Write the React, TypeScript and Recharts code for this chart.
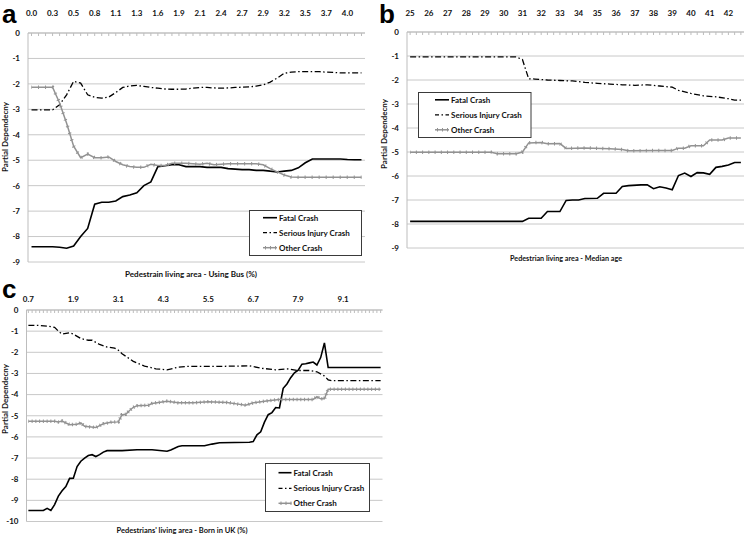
import React from 'react';
import { LineChart, Line, XAxis, YAxis, CartesianGrid } from 'recharts';

type Pt = [number, number];

const FONT = "Lato, 'Open Sans', 'Liberation Sans', sans-serif";
const GRID = '#c8c8c8';
const AXIS = '#bdbdbd';
const GRAY = '#929292';
const INK = '#111111';

const seriesNames = ['Fatal Crash', 'Serious Injury Crash', 'Other Crash'];
const yAxisTitle = 'Partial Dependecny';
const panelLetters = ['a', 'b', 'c'];
const xAxisTitles = [
  'Pedestrain living area - Using Bus (%)',
  'Pedestrian living area - Median age',
  "Pedestrians' living area - Born in UK (%)",
];

// ---------- Panel a : Using Bus (%) ----------
const aTickLabels = ['0.0', '0.3', '0.5', '0.8', '1.1', '1.3', '1.6', '1.9', '2.1', '2.4', '2.7', '2.9', '3.2', '3.5', '3.7', '4.0'];
const aCategoryCount = 48;
const aFatal = [
  -8.4, -8.4, -8.4, -8.4, -8.42, -8.46, -8.37, -8.0, -7.68, -6.73, -6.65, -6.65, -6.6, -6.43, -6.37, -6.28,
  -6.0, -5.85, -5.25, -5.22, -5.18, -5.18, -5.25, -5.25, -5.25, -5.28, -5.28, -5.28, -5.33, -5.35, -5.37, -5.37,
  -5.4, -5.4, -5.43, -5.46, -5.43, -5.4, -5.3, -5.1, -4.95, -4.95, -4.95, -4.95, -4.95, -4.97, -4.98, -4.98,
];
const aSerious = [
  -3.02, -3.02, -3.02, -3.02, -2.82, -2.43, -1.9, -1.97, -2.43, -2.53, -2.56, -2.52, -2.34, -2.14, -2.08, -2.06,
  -2.1, -2.14, -2.17, -2.2, -2.21, -2.21, -2.2, -2.17, -2.14, -2.14, -2.16, -2.17, -2.16, -2.14, -2.13, -2.12,
  -2.09, -2.04, -1.93, -1.77, -1.58, -1.54, -1.52, -1.52, -1.52, -1.52, -1.54, -1.55, -1.57, -1.57, -1.57, -1.57,
];
const aOther = [
  -2.13, -2.13, -2.13, -2.13, -2.75, -3.55, -4.45, -4.9, -4.76, -4.9, -4.9, -4.87, -5.05, -5.18, -5.25, -5.28,
  -5.28, -5.16, -5.21, -5.21, -5.12, -5.12, -5.12, -5.14, -5.16, -5.12, -5.18, -5.16, -5.14, -5.14, -5.14, -5.14,
  -5.14, -5.18, -5.33, -5.46, -5.58, -5.66, -5.67, -5.67, -5.67, -5.67, -5.67, -5.67, -5.67, -5.67, -5.67, -5.67,
];

// ---------- Panel b : Median age ----------
const bTickLabels = ['25', '26', '27', '28', '29', '30', '31', '32', '33', '34', '35', '36', '37', '38', '39', '40', '41', '42'];
const bCategoryCount = 54;
const bFatal: Pt[] = [
  [0, -7.89], [18, -7.89], [19, -7.76], [21, -7.76], [22, -7.48], [24, -7.48], [25, -7.02], [26, -7.0], [27, -7.0],
  [28, -6.94], [30, -6.93], [31, -6.72], [33, -6.72], [34, -6.44], [35, -6.4], [37, -6.37], [38, -6.37], [39, -6.53],
  [40, -6.45], [41, -6.5], [42, -6.57], [43, -5.98], [44, -5.88], [45, -6.02], [46, -5.86], [47, -5.87], [48, -5.93],
  [49, -5.64], [50, -5.6], [51, -5.54], [52, -5.44], [53, -5.44],
];
const bSerious: Pt[] = [
  [0, -1.04], [17, -1.04], [18, -1.15], [19, -1.95], [20, -1.96], [22, -2.0], [24, -2.02], [26, -2.04], [28, -2.1],
  [30, -2.14], [32, -2.17], [34, -2.2], [36, -2.22], [38, -2.2], [40, -2.25], [42, -2.3], [43, -2.43], [45, -2.56],
  [47, -2.66], [49, -2.7], [51, -2.78], [52, -2.84], [53, -2.84],
];
const bOther: Pt[] = [
  [0, -5.01], [13, -5.01], [14, -5.07], [17, -5.07], [18, -5.0], [19, -4.62], [21, -4.6], [22, -4.66], [24, -4.65],
  [25, -4.85], [28, -4.83], [32, -4.86], [34, -4.9], [35, -4.95], [39, -4.94], [42, -4.94], [43, -4.84], [44, -4.84],
  [45, -4.74], [47, -4.74], [48, -4.5], [50, -4.5], [51, -4.42], [53, -4.42],
];

// ---------- Panel c : Born in UK (%) ----------
const cTickLabels = ['0.7', '1.9', '3.1', '4.3', '5.5', '6.7', '7.9', '9.1'];
const cCategoryCount = 95;
const cFatal: Pt[] = [
  [0, -9.48], [4, -9.48], [5, -9.38], [6, -9.48], [7, -9.2], [8, -8.8], [9, -8.55], [10, -8.35], [11, -7.96],
  [12, -7.95], [13, -7.4], [14, -7.15], [15, -7.0], [16, -6.88], [17, -6.84], [18, -6.93], [19, -6.84], [20, -6.72],
  [21, -6.65], [25, -6.65], [29, -6.61], [33, -6.61], [37, -6.68], [38, -6.62], [40, -6.45], [41, -6.42], [47, -6.42],
  [49, -6.34], [51, -6.28], [59, -6.25], [60, -6.22], [61, -5.9], [62, -5.76], [63, -5.3], [64, -4.95], [65, -4.85],
  [66, -4.61], [67, -4.63], [68, -3.7], [69, -3.5], [70, -3.2], [71, -2.97], [72, -2.85], [73, -2.56], [74, -2.54],
  [75, -2.5], [76, -2.46], [77, -2.6], [78, -2.25], [79, -1.56], [80, -2.72], [94, -2.72],
];
const cSerious: Pt[] = [
  [0, -0.73], [3, -0.73], [5, -0.76], [7, -0.82], [8, -1.0], [9, -1.14], [11, -1.08], [12, -1.14], [14, -1.35],
  [16, -1.43], [17, -1.43], [19, -1.63], [21, -1.75], [23, -1.8], [24, -1.9], [25, -2.07], [28, -2.43], [31, -2.65],
  [34, -2.78], [37, -2.83], [40, -2.7], [42, -2.67], [48, -2.67], [53, -2.66], [59, -2.64], [62, -2.75], [66, -2.83],
  [69, -2.78], [72, -2.86], [75, -2.86], [77, -2.92], [79, -3.12], [80, -3.3], [81, -3.34], [94, -3.34],
];
const cOther: Pt[] = [
  [0, -5.26], [7, -5.26], [8, -5.29], [9, -5.25], [11, -5.42], [13, -5.4], [14, -5.34], [15, -5.5], [18, -5.56],
  [20, -5.38], [22, -5.31], [24, -5.29], [25, -4.95], [26, -4.93], [27, -4.75], [28, -4.6], [29, -4.53], [32, -4.5],
  [33, -4.42], [37, -4.31], [40, -4.39], [44, -4.39], [48, -4.34], [53, -4.37], [56, -4.45], [58, -4.5], [60, -4.39],
  [64, -4.29], [67, -4.23], [76, -4.23], [77, -4.1], [78, -4.2], [79, -4.2], [80, -3.75], [94, -3.75],
];

function toPairs(values: number[]): Pt[] {
  return values.map((v, i) => [i, v] as Pt);
}

function buildRows(fatal: Pt[], serious: Pt[], other: Pt[]) {
  const rows = new Map<number, Record<string, number>>();
  const put = (key: string, pts: Pt[]) =>
    pts.forEach(([x, y]) => {
      const r = rows.get(x) ?? { x };
      r[key] = y;
      rows.set(x, r);
    });
  put('fatal', fatal);
  put('serious', serious);
  put('other', other);
  return Array.from(rows.values()).sort((p, q) => p.x - q.x);
}

function TopTick(props: any) {
  const { x, y, payload, labels, every, gap } = props;
  const i = Math.round(payload.value);
  const lbl = i % every === 0 ? labels[i / every] : undefined;
  return (
    <g>
      <line x1={x} x2={x} y1={y} y2={y + 3} stroke={AXIS} strokeWidth={1} />
      {lbl !== undefined && (
        <text x={x} y={y - gap} textAnchor="middle" dominantBaseline="central" fontSize={8} fontWeight={700} fill={INK} fontFamily={FONT}>
          {lbl}
        </text>
      )}
    </g>
  );
}

interface PanelProps {
  left: number; top: number; width: number; height: number;
  plotLeft: number; plotTop: number; plotRight: number; plotBottom: number;
  count: number; every: number; labels: string[]; gap: number; yMin: number;
  fatal: Pt[]; serious: Pt[]; other: Pt[];
}

function Panel(p: PanelProps) {
  const data = buildRows(p.fatal, p.serious, p.other);
  const step = (p.plotRight - p.plotLeft) / p.count;
  const ticks = Array.from({ length: p.count }, (_, i) => i);
  const yTicks = Array.from({ length: -p.yMin + 1 }, (_, k) => -k);
  return (
    <div style={{ position: 'absolute', left: p.left, top: p.top }}>
      <LineChart
        width={p.width}
        height={p.height}
        data={data}
        margin={{ top: 0, left: 0, right: p.width - (p.plotRight - p.left), bottom: p.height - (p.plotBottom - p.top) }}
      >
        <CartesianGrid vertical={false} stroke={GRID} />
        <XAxis
          type="number"
          dataKey="x"
          orientation="top"
          domain={[-0.5, p.count - 0.5]}
          allowDataOverflow
          ticks={ticks}
          interval={0}
          height={p.plotTop - p.top}
          tickSize={0}
          tickMargin={0}
          tickLine={false}
          axisLine={{ stroke: AXIS }}
          tick={(tp: any) => <TopTick {...tp} labels={p.labels} every={p.every} gap={p.gap} />}
        />
        <YAxis
          type="number"
          domain={[p.yMin, 0]}
          allowDataOverflow
          ticks={yTicks}
          interval={0}
          width={p.plotLeft - p.left}
          tickSize={0}
          tickMargin={8}
          tickLine={false}
          axisLine={{ stroke: AXIS }}
          tick={{ fontSize: 8, fontWeight: 700, fill: INK, fontFamily: FONT }}
        />
        <Line type="linear" dataKey="fatal" name={seriesNames[0]} stroke="#000" strokeWidth={1.6} dot={false} activeDot={false} connectNulls isAnimationActive={false} />
        <Line type="linear" dataKey="serious" name={seriesNames[1]} stroke="#000" strokeWidth={1.3} strokeDasharray="6 2.5 1.5 2.5" dot={false} activeDot={false} connectNulls isAnimationActive={false} />
        <Line type="linear" dataKey="other" name={seriesNames[2]} stroke={GRAY} strokeWidth={1.5} dot={false} activeDot={false} connectNulls isAnimationActive={false} />
        <Line type="linear" dataKey="other" name="other-markers" legendType="none" stroke={GRAY} strokeWidth={3.5} strokeDasharray={`1 ${(step - 1).toFixed(2)}`} strokeDashoffset={0.5} dot={false} activeDot={false} connectNulls isAnimationActive={false} />
      </LineChart>
    </div>
  );
}

function LegendBox(props: { x: number; y: number; w: number; h: number; rows: number[]; sx: number; sw: number }) {
  const { x, y, w, h, rows, sx, sw } = props;
  const tx = sx + sw + 2;
  return (
    <g>
      <rect x={x} y={y} width={w} height={h} fill="#fff" stroke="#3a3a3a" strokeWidth={1} />
      <line x1={sx} x2={sx + sw} y1={rows[0]} y2={rows[0]} stroke="#000" strokeWidth={1.6} />
      <line x1={sx} x2={sx + sw} y1={rows[1]} y2={rows[1]} stroke="#000" strokeWidth={1.3} strokeDasharray="4 2.5 1.5 2.5" />
      <line x1={sx} x2={sx + sw} y1={rows[2]} y2={rows[2]} stroke={GRAY} strokeWidth={1.5} />
      <line x1={sx} x2={sx + sw} y1={rows[2]} y2={rows[2]} stroke={GRAY} strokeWidth={3.5} strokeDasharray="1 4" strokeDashoffset={-2} />
      {seriesNames.map((n, k) => (
        <text key={n} x={tx} y={rows[k]} dominantBaseline="central" fontSize={8} fontWeight={700} fill={INK} fontFamily={FONT}>
          {n}
        </text>
      ))}
    </g>
  );
}

export default function App() {
  const titleStyle = { fontSize: 8, fontWeight: 700, fill: INK, fontFamily: FONT } as const;
  const letterStyle = { fontSize: 26, fontWeight: 700, fill: '#000', fontFamily: "'Liberation Sans', Arial, sans-serif" } as const;
  return (
    <div style={{ position: 'absolute', left: 0, top: 0, width: 747, height: 536, background: '#fff', overflow: 'hidden' }}>
      <Panel
        left={0} top={0} width={375} height={270}
        plotLeft={28} plotTop={33} plotRight={365} plotBottom={262}
        count={aCategoryCount} every={3} labels={aTickLabels} gap={20} yMin={-9}
        fatal={toPairs(aFatal)} serious={toPairs(aSerious)} other={toPairs(aOther)}
      />
      <Panel
        left={380} top={0} width={367} height={255}
        plotLeft={407} plotTop={32} plotRight={744} plotBottom={248}
        count={bCategoryCount} every={3} labels={bTickLabels} gap={19} yMin={-9}
        fatal={bFatal} serious={bSerious} other={bOther}
      />
      <Panel
        left={0} top={283} width={390} height={253}
        plotLeft={26.5} plotTop={310} plotRight={382.5} plotBottom={521.5}
        count={cCategoryCount} every={12} labels={cTickLabels} gap={11} yMin={-10}
        fatal={cFatal} serious={cSerious} other={cOther}
      />
      <svg width={747} height={536} style={{ position: 'absolute', left: 0, top: 0, pointerEvents: 'none' }}>
        <text x={2} y={22.5} {...letterStyle}>{panelLetters[0]}</text>
        <text x={379} y={22.5} {...letterStyle}>{panelLetters[1]}</text>
        <text x={2} y={297.5} {...letterStyle}>{panelLetters[2]}</text>

        <text x={191} y={274} textAnchor="middle" dominantBaseline="central" textLength={132} lengthAdjust="spacingAndGlyphs" {...titleStyle}>{xAxisTitles[0]}</text>
        <text x={566} y={258} textAnchor="middle" dominantBaseline="central" textLength={112} lengthAdjust="spacingAndGlyphs" {...titleStyle}>{xAxisTitles[1]}</text>
        <text x={182} y={530} textAnchor="middle" dominantBaseline="central" textLength={131} lengthAdjust="spacingAndGlyphs" {...titleStyle}>{xAxisTitles[2]}</text>

        <text transform="translate(4.5,137) rotate(-90)" textAnchor="middle" dominantBaseline="central" {...titleStyle}>{yAxisTitle}</text>
        <text transform="translate(384,134) rotate(-90)" textAnchor="middle" dominantBaseline="central" {...titleStyle}>{yAxisTitle}</text>
        <text transform="translate(4.5,399) rotate(-90)" textAnchor="middle" dominantBaseline="central" {...titleStyle}>{yAxisTitle}</text>

        <LegendBox x={249.5} y={210.5} w={112} h={45} rows={[217.7, 232.7, 247.7]} sx={263} sw={14} />
        <LegendBox x={418.5} y={92.5} w={112.5} h={45} rows={[99.8, 114.8, 129.8]} sx={435} sw={14} />
        <LegendBox x={265.5} y={463.5} w={104} h={48} rows={[472.7, 488.3, 503.3]} sx={278.5} sw={13} />
      </svg>
    </div>
  );
}
